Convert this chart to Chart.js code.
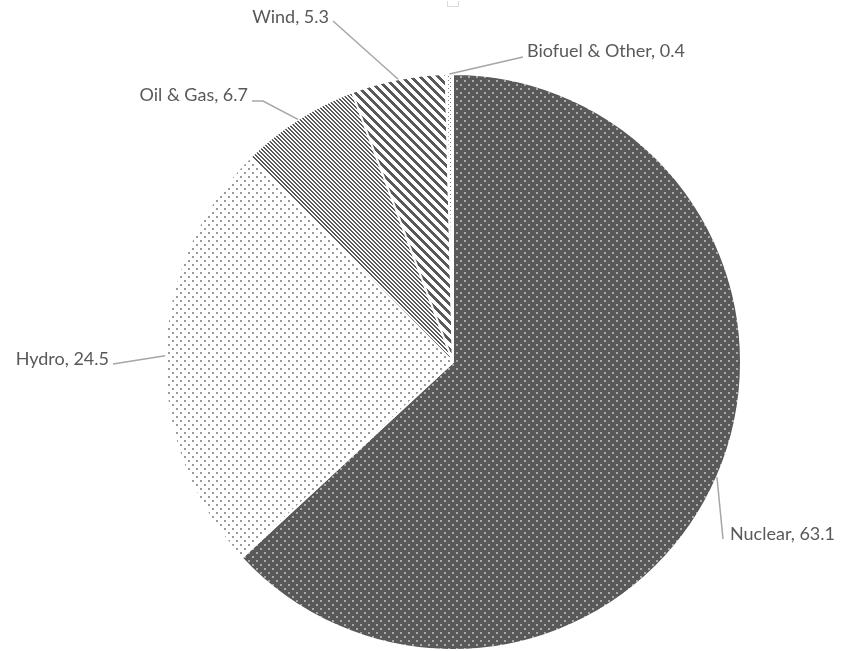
<!DOCTYPE html>
<html lang="en">
<head>
<meta charset="UTF-8">
<title>Electricity generation by source</title>
<script src="https://cdn.jsdelivr.net/npm/chart.js"></script>
<style>
  html, body {
    margin: 0;
    padding: 0;
    background: #fff;
  }
  #wrap {
    position: relative;
    width: 842px;
    height: 651px;
  }
</style>
</head>
<body>
<div id="wrap">
  <canvas id="pieChart"></canvas>
</div>
<script>
const sources = ['Nuclear', 'Hydro', 'Oil & Gas', 'Wind', 'Biofuel & Other'];
const shares = [63.1, 24.5, 6.7, 5.3, 0.4];

// dotted tile: bg colour, dot colour, tile size, dot size
function dotPattern(bg, dot, size, d) {
  const c = document.createElement('canvas');
  c.width = size; c.height = size;
  const g = c.getContext('2d');
  g.fillStyle = bg;
  g.fillRect(0, 0, size, size);
  g.fillStyle = dot;
  g.fillRect(0, 0, d, d);
  g.fillRect(size / 2, size / 2, d, d);
  return g.createPattern(c, 'repeat');
}

// "\" stripes: period n, dark width w
function stripePattern(fg, bg, n, w) {
  const c = document.createElement('canvas');
  c.width = n; c.height = n;
  const g = c.getContext('2d');
  g.fillStyle = bg;
  g.fillRect(0, 0, n, n);
  g.fillStyle = fg;
  for (let x = 0; x < n; x++) {
    for (let y = 0; y < n; y++) {
      if ((((x - y) % n) + n) % n < w) g.fillRect(x, y, 1, 1);
    }
  }
  return g.createPattern(c, 'repeat');
}

const fills = [
  dotPattern('#595959', '#a9a9a9', 8, 2),
  dotPattern('#ffffff', '#9a9a9a', 8, 2),
  stripePattern('#595959', '#ffffff', 4, 2),
  stripePattern('#595959', '#ffffff', 9, 4),
  dotPattern('#ffffff', '#7f7f7f', 4, 1)
];

// where each leader line ends and its text sits
const labelSpots = [
  {pts: [[723, 539]], tx: 730, ty: 540, align: 'left'},
  {pts: [[113, 364]], tx: 109, ty: 365, align: 'right'},
  {pts: [[263, 101], [252, 101]], tx: 248, ty: 101, align: 'right'},
  {pts: [[333, 21]], tx: 329, ty: 23, align: 'right'},
  {pts: [[523, 57]], tx: 527, ty: 57, align: 'left'}
];

const leaderLabels = {
  id: 'leaderLabels',
  afterDatasetsDraw(chart) {
    const ctx = chart.ctx;
    const meta = chart.getDatasetMeta(0);
    ctx.save();
    meta.data.forEach((arc, i) => {
      const p = arc.getProps(['x', 'y', 'startAngle', 'endAngle', 'outerRadius'], true);
      const mid = (p.startAngle + p.endAngle) / 2;
      const ex = p.x + Math.cos(mid) * p.outerRadius;
      const ey = p.y + Math.sin(mid) * p.outerRadius;
      const s = labelSpots[i];
      ctx.beginPath();
      ctx.moveTo(ex, ey);
      s.pts.forEach(pt => ctx.lineTo(pt[0], pt[1]));
      ctx.strokeStyle = '#a6a6a6';
      ctx.lineWidth = 1.5;
      ctx.stroke();
      ctx.fillStyle = '#595959';
      ctx.font = '18px Lato';
      ctx.textAlign = s.align;
      ctx.textBaseline = 'alphabetic';
      ctx.fillText(sources[i] + ', ' + shares[i], s.tx, s.ty);
    });
    // small stray mark at the top
    ctx.beginPath();
    ctx.moveTo(447.5, 1);
    ctx.lineTo(447.5, 6.5);
    ctx.lineTo(458.5, 6.5);
    ctx.lineTo(458.5, 1);
    ctx.strokeStyle = '#d9d9d9';
    ctx.lineWidth = 1;
    ctx.stroke();
    ctx.restore();
  }
};

new Chart(document.getElementById('pieChart'), {
  type: 'pie',
  data: {
    labels: sources,
    datasets: [{
      data: shares,
      backgroundColor: fills,
      borderColor: '#ffffff',
      borderWidth: 2
    }]
  },
  options: {
    responsive: true,
    maintainAspectRatio: false,
    animation: false,
    layout: {
      padding: {left: 164, right: 100, top: 73, bottom: 0}
    },
    plugins: {
      legend: {display: false},
      tooltip: {enabled: false}
    }
  },
  plugins: [leaderLabels]
});
</script>
</body>
</html>
